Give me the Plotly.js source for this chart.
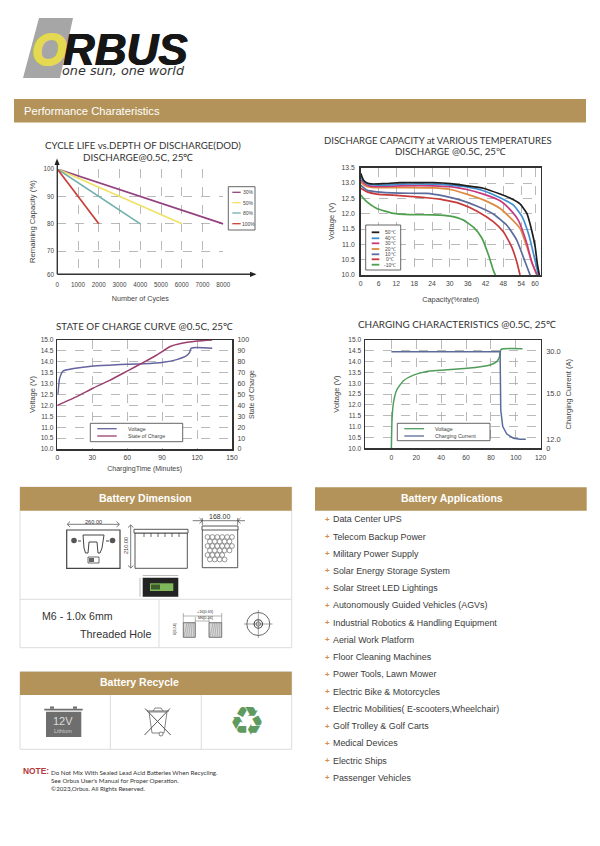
<!DOCTYPE html>
<html>
<head>
<meta charset="utf-8">
<script src="https://cdn.plot.ly/plotly-3.0.1.min.js"></script>
<style>html,body{margin:0;padding:0;background:#fff}#c{width:600px;height:846px}</style>
</head>
<body>
<div id="c"></div>
<script>
// ---------- Chart 1: cycle life vs depth of discharge ----------
const cycleNames = ['30%', '50%', '80%', '100%'];
const cycle30x = [0, 8000];
const cycle50x = [0, 6000];
const cycle80x = [0, 4000];
const cycle100x = [0, 2000];
const cycleY = [100, 80];
const cycleXTicks = [0, 1000, 2000, 3000, 4000, 5000, 6000, 7000, 8000];
const cycleYTickVals = [61.6, 70, 80, 90, 100];
const cycleYTickText = ['60', '70', '80', '90', '100'];

// ---------- Chart 2: discharge capacity at temperatures ----------
const tempNames = ['50℃', '40℃', '30℃', '20℃', '10℃', '0℃', '-10℃'];
const t50x = [0, 0.9, 2, 3.7, 7.6, 13.2, 18.8, 24.4, 30.1, 35.7, 41.3, 46.9, 50.2, 53.6, 55.9, 57.5, 58.7, 59.4, 60.1];
const t50y = [13.32, 13.1, 13.01, 12.97, 12.98, 13.01, 13.01, 13.01, 12.98, 12.91, 12.83, 12.64, 12.51, 12.32, 12.01, 11.47, 10.92, 10.38, 10];
const t40x = [0, 0.9, 2.6, 7.6, 13.2, 24.4, 30.1, 35.7, 41.3, 46.9, 51.4, 54.2, 56.4, 58.1, 59.8];
const t40y = [13.21, 13.07, 12.96, 12.93, 12.96, 12.96, 12.93, 12.87, 12.75, 12.52, 12.28, 11.92, 11.36, 10.71, 10];
const t30x = [0, 1.5, 3.7, 13.2, 24.4, 30.1, 35.7, 41.3, 46.9, 50.2, 53, 55.9, 57.5, 59.4];
const t30y = [13.1, 12.97, 12.89, 12.91, 12.91, 12.88, 12.79, 12.64, 12.42, 12.14, 11.79, 11.03, 10.43, 10];
const t20x = [0, 1.5, 3.7, 13.2, 24.4, 30.1, 35.7, 41.3, 46.9, 50.2, 53.6, 55.9, 58.1, 59.2];
const t20y = [13.04, 12.91, 12.86, 12.85, 12.84, 12.79, 12.64, 12.45, 12.17, 11.88, 11.52, 10.92, 10.27, 10];
const t10x = [0, 2, 5.4, 13.2, 22.2, 27.8, 33.4, 39, 44.6, 49.1, 52.5, 55.3, 57];
const t10y = [12.93, 12.77, 12.71, 12.67, 12.66, 12.58, 12.45, 12.25, 11.99, 11.63, 11.14, 10.43, 10];
const t0x = [0, 2, 5.4, 13.2, 22.2, 27.8, 33.4, 39, 44.6, 48, 50.8, 52.5, 53.6];
const t0y = [12.83, 12.72, 12.64, 12.59, 12.52, 12.45, 12.33, 12.09, 11.74, 11.41, 10.92, 10.43, 10];
const tm10x = [0, 2, 5.4, 11, 16.6, 24.4, 30.1, 34.6, 38, 40.8, 43, 44.6, 45.3];
const tm10y = [12.61, 12.39, 12.17, 12.01, 11.97, 11.96, 11.92, 11.79, 11.55, 11.2, 10.65, 10.16, 10];
const tempXTickVals = [0, 6, 12, 18, 24, 30, 36, 42, 48, 54, 58.65];
const tempXTickText = ['0', '6', '12', '18', '24', '30', '36', '42', '48', '54', '60'];
const voltTicks = [10, 10.5, 11, 11.5, 12, 12.5, 13, 13.5];
const voltTicksFull = [10, 10.5, 11, 11.5, 12, 12.5, 13, 13.5, 14, 14.5, 15];

// ---------- Chart 3: state of charge curve ----------
const socVoltX = [0.5, 2, 5, 14, 31, 51, 74, 91, 102.5, 111, 113.5, 115, 133];
const socVoltY = [12.5, 13.24, 13.58, 13.69, 13.81, 13.87, 13.91, 13.98, 14.1, 14.28, 14.42, 14.63, 14.62];
const socX = [0, 16.6, 31, 45, 60, 74, 85, 97, 105, 120, 133];
const socY = [40, 48, 56, 63, 71.5, 79.5, 86, 94, 96.5, 99, 100];
const socXTicks = [0, 30, 60, 90, 120, 150];
const socRightTicks = [0, 10, 20, 30, 40, 50, 60, 70, 80, 90, 100];

// ---------- Chart 4: charging characteristics ----------
const chgVoltX = [0, 0.5, 1.6, 4.3, 9.7, 17.7, 28.4, 39, 60.6, 79.4, 84.7, 86.9, 88.2, 105.4];
const chgVoltY = [10, 11.3, 12.08, 12.69, 13.12, 13.38, 13.55, 13.6, 13.69, 13.85, 14, 14.23, 14.57, 14.6];
const chgCurX = [0, 87.4, 87.6, 87.9, 89.5, 92.8, 98.1, 103.5, 108];
const chgCurY = [29.8, 29.8, 22, 11.8, 6.7, 4.4, 3.1, 2.8, 2.8];
const chgXTicks = [0, 20, 40, 60, 80, 100, 120];
const chgRightTickVals = [0, 2.8, 16.9, 30];
const chgRightTickText = ['0', '12.0', '15.0', '30.0'];

// ---------- Text ----------
const applications = ['Data Center UPS', 'Telecom Backup Power', 'Military Power Supply', 'Solar Energy Storage System', 'Solar Street LED Lightings', 'Autonomously Guided Vehicles (AGVs)', 'Industrial Robotics & Handling Equipment', 'Aerial Work Platform', 'Floor Cleaning Machines', 'Power Tools, Lawn Mower', 'Electric Bike & Motorcycles', 'Electric Mobilities( E-scooters,Wheelchair)', 'Golf Trolley & Golf Carts', 'Medical Devices', 'Electric Ships', 'Passenger Vehicles'];
const noteLines = ['Do Not Mix With Sealed Lead Acid Batteries When Recycling.', "See Orbus User's Manual for Proper Operation.", '©2023,Orbus. All Rights Reserved.'];

// ---------- Colours ----------
const TAN = '#b39359', BORDER = '#dcdcdc', INK = '#333333', GRID = '#a8a8a8';
const SANS = 'Liberation Sans, Arial, sans-serif', HEAD = 'Lato, sans-serif';
const cycleColors = ['#94417f', '#efe265', '#6fb0ac', '#c93f3a'];
const tempColors = ['#1d1d1d', '#3f8fd1', '#c8397e', '#dd8a3f', '#5b6b9c', '#c8393a', '#4ea04f'];

// ---------- Page-pixel helpers ----------
const W = 600, H = 846;
const fx = x => x / W, fy = y => 1 - y / H;
const shapes = [], annotations = [];
function rect(x0, y0, x1, y1, fill, lineColor, w) {
  shapes.push({type: 'rect', xref: 'paper', yref: 'paper', x0: fx(x0), x1: fx(x1), y0: fy(y0), y1: fy(y1),
    fillcolor: fill || 'rgba(0,0,0,0)', line: {color: lineColor || 'rgba(0,0,0,0)', width: lineColor ? (w || 1) : 0}});
}
function seg(x0, y0, x1, y1, color, w, dash) {
  shapes.push({type: 'line', xref: 'paper', yref: 'paper', x0: fx(x0), x1: fx(x1), y0: fy(y0), y1: fy(y1),
    line: {color: color, width: w || 1, dash: dash || 'solid'}});
}
function circ(cx, cy, r, fill, lineColor, w) {
  shapes.push({type: 'circle', xref: 'paper', yref: 'paper', x0: fx(cx - r), x1: fx(cx + r), y0: fy(cy + r), y1: fy(cy - r),
    fillcolor: fill || 'rgba(0,0,0,0)', line: {color: lineColor || 'rgba(0,0,0,0)', width: lineColor ? (w || 1) : 0}});
}
function poly(d, fill, lineColor, w) {
  const p = d.replace(/(-?[\d.]+)[ ,]+(-?[\d.]+)/g, (m, a, b) => fx(+a) + ',' + fy(+b));
  shapes.push({type: 'path', xref: 'paper', yref: 'paper', path: p,
    fillcolor: fill || 'rgba(0,0,0,0)', line: {color: lineColor || 'rgba(0,0,0,0)', width: lineColor ? (w || 1) : 0}});
}
function label(x, y, t, size, o) {
  o = o || {};
  const font = {family: o.family || SANS, size: size, color: o.color || INK, weight: o.weight || 400, style: o.style || 'normal'};
  if (o.shadow) font.shadow = o.shadow;
  annotations.push({xref: 'paper', yref: 'paper', x: fx(x), y: fy(y), text: t, showarrow: false,
    xanchor: o.anchor || 'center', yanchor: 'middle', textangle: o.angle || 0, borderpad: 0, font: font});
}
function legendBox(x0, y0, x1, y1, names, colors, ys, lx0, lx1, tx, anchor, size, lw) {
  rect(x0, y0, x1, y1, '#ffffff', '#555555', 0.9);
  names.forEach((n, i) => {
    seg(lx0, ys[i], lx1, ys[i], colors[i], lw);
    label(tx, ys[i], n, size, {anchor: anchor, color: '#444444'});
  });
}

// ---------- Logo ----------
poly('M 39 18 L 73 18 L 60 78 L 23 78 Z', '#a6a6a6');
label(49, 49, 'O', 44, {weight: 700, style: 'italic', color: '#e4d950',
  shadow: '1px 0 0 #e4d950, -1px 0 0 #e4d950, 0 1px 0 #e4d950, 0 -1px 0 #e4d950'});
label(62, 49, 'RBUS', 44, {anchor: 'left', weight: 700, style: 'italic', color: '#161616',
  shadow: '0.6px 0 0 #161616, -0.6px 0 0 #161616'});
label(61, 71, 'one sun, one world', 12.8, {anchor: 'left', family: 'DejaVu Sans', style: 'italic', color: '#333333'});

// ---------- Section bands ----------
rect(14, 99, 586, 122.5, TAN);
label(23, 111, 'Performance Charateristics', 11.2, {anchor: 'left', color: '#ffffff'});

rect(20, 487, 291.7, 647.7, '#ffffff', BORDER, 1);
rect(20, 487, 291.7, 510.7, TAN);
label(145, 497.5, 'Battery Dimension', 10.5, {color: '#ffffff', weight: 700});
seg(20, 599.3, 291.7, 599.3, BORDER, 1);
seg(159, 599.3, 159, 647.7, BORDER, 1);

rect(20, 671.7, 291.7, 749.3, '#ffffff', BORDER, 1);
rect(20, 671.7, 291.7, 695, TAN);
label(139, 682.3, 'Battery Recycle', 10.5, {color: '#ffffff', weight: 700});
seg(110.3, 695, 110.3, 749.3, BORDER, 1);
seg(201.3, 695, 201.3, 749.3, BORDER, 1);

rect(315, 487.3, 586.7, 510.7, TAN);
label(452, 497.7, 'Battery Applications', 10.5, {color: '#ffffff', weight: 700});

// ---------- Applications list ----------
applications.forEach((a, i) => {
  const y = 519.3 + i * 17.23;
  label(327.7, y, '+', 8, {color: '#d98a4d', weight: 700});
  label(332.3, y, a, 8.9, {anchor: 'left', color: '#3a3a3a'});
});

// ---------- Dimension drawings ----------
const DK = '#444444';
// front view
rect(66.7, 530, 120, 568.3, '#ffffff', DK, 1.2);
seg(67.7, 524.3, 119, 524.3, DK, 0.7);
poly('M 70 521.5 L 67.2 524.3 L 70 527', null, DK, 0.7);
poly('M 116.5 521.5 L 119.5 524.3 L 116.5 527', null, DK, 0.7);
label(93.3, 521.5, '260.00', 5.6);
circ(74, 540.5, 2.8, '#555555');
circ(112.5, 540.5, 2.8, '#555555');
seg(78, 541, 81, 541, DK, 1);
seg(106, 541, 109, 541, DK, 1);
poly('M 83 535 L 104 535 L 102 548 L 100 553 L 98 553 L 97 542 L 89 542 L 88 553 L 85.5 553 L 84 548 Z', '#ffffff', DK, 1);
rect(88, 557, 99, 563, '#ffffff', DK, 0.8);
rect(89, 558, 94, 562, '#666666');
// side view
rect(135, 533, 187.3, 568.3, '#ffffff', DK, 0.9);
rect(134, 529.3, 188, 533, '#ffffff', DK, 0.9);
[144, 151, 158, 165, 172, 179].forEach(x => seg(x, 533, x, 537, DK, 0.8));
seg(130.7, 525, 130.7, 568, DK, 0.7);
poly('M 128 527.5 L 130.7 525 L 133.4 527.5', null, DK, 0.7);
poly('M 128 565.5 L 130.7 568 L 133.4 565.5', null, DK, 0.7);
label(126, 546, '210.00', 5.6, {angle: -90});
// top view
rect(202.3, 529, 237.7, 567.7, '#ffffff', DK, 0.9);
rect(202, 526, 238, 530, '#ffffff', DK, 0.9);
seg(192.7, 520.7, 245, 520.7, DK, 0.7);
poly('M 199.5 518 L 202.3 520.7 L 199.5 523.4', null, DK, 0.7);
poly('M 240.5 518 L 237.7 520.7 L 240.5 523.4', null, DK, 0.7);
seg(202.3, 518, 202.3, 525, DK, 0.7);
seg(237.7, 518, 237.7, 525, DK, 0.7);
label(220, 516.7, '168.00', 7);
for (let r = 0; r < 6; r++) {
  for (let c = 0; c < (r % 2 ? 5 : 6); c++) {
    if (r > 3 && c > 3) continue;
    circ(207.5 + c * 4.9 + (r % 2 ? 2.4 : 0), 537 + r * 4.5, 2.4, '#ffffff', '#555555', 0.6);
  }
}
// LCD
rect(142.7, 577.7, 178.3, 596.7, '#232323');
rect(150, 583.3, 173.3, 591, '#7fb85a');
rect(151, 584.5, 160, 589.5, '#3c5c2a');
seg(142.7, 575.5, 178.3, 575.5, '#777777', 0.5);
seg(140, 577.7, 140, 596.7, '#777777', 0.5);
// threaded hole
label(41, 616, 'M6 - 1.0x 6mm', 10.6, {anchor: 'left', color: '#333333'});
label(152.3, 633.5, 'Threaded Hole', 10.8, {anchor: 'right', color: '#333333'});
rect(183.3, 622.7, 195.3, 637.3, '#d8d8d8', DK, 0.7);
rect(209, 622.7, 221.7, 637.3, '#d8d8d8', DK, 0.7);
for (let i = 0; i < 5; i++) {
  seg(184 + i * 2.4, 636.8, 187 + i * 1.7, 623, '#777777', 0.4);
  seg(210 + i * 2.4, 636.8, 213 + i * 1.7, 623, '#777777', 0.4);
}
seg(183.3, 613, 183.3, 622.7, DK, 0.4);
seg(221.7, 613, 221.7, 622.7, DK, 0.4);
seg(183.3, 616, 221.7, 616, DK, 0.4);
seg(195.3, 617, 195.3, 622.7, DK, 0.4);
seg(209, 617, 209, 622.7, DK, 0.4);
seg(195.3, 621, 209, 621, DK, 0.4);
label(205, 611.5, '+16[0.63]', 3.8);
label(205, 618, 'M6[0.24]', 3.8);
label(175, 629, '6[0.24]', 3.8, {angle: -90});
circ(258.3, 624, 11.5, '#ffffff', DK, 0.8);
circ(258.3, 624, 4.2, '#ffffff', DK, 1.1);
circ(258.3, 624, 2.2, '#ffffff', DK, 0.7);
seg(244, 624, 272.5, 624, DK, 0.5);
seg(258.3, 610, 258.3, 638, DK, 0.5);

// ---------- Recycle icons ----------
rect(46, 711.7, 81.3, 737, '#6e6e6e');
rect(44.3, 708.7, 82.7, 710.5, '#6e6e6e');
rect(50, 706.5, 54, 708.7, '#6e6e6e');
rect(73, 706.5, 77, 708.7, '#6e6e6e');
label(63.3, 721, '12V', 11, {color: '#dcdcdc'});
label(63.3, 730.5, 'Lithium', 5.5, {color: '#cfcfcf'});
poly('M 149 712 L 167 712 L 164 733 L 152 733 Z', null, '#666666', 0.8);
seg(147, 711, 169, 711, '#666666', 1);
poly('M 153 711 L 155 708 L 161 708 L 163 711', null, '#666666', 0.8);
seg(145, 708.5, 170.7, 735, '#555555', 1);
seg(170, 708.5, 144.5, 735, '#555555', 1);
circ(161, 734, 2, '#ffffff', '#666666', 0.8);
label(246.7, 720.5, '♻', 40, {family: 'DejaVu Sans', color: '#5f9a5f'});

// ---------- Note ----------
label(22.3, 771, 'NOTE:', 8.4, {anchor: 'left', color: '#b2383a', weight: 700});
label(49.5, 772, noteLines[0], 6.2, {anchor: 'left', family: HEAD});
label(49.5, 780.3, noteLines[1], 6.2, {anchor: 'left', family: HEAD});
label(49.5, 788.5, noteLines[2], 6.2, {anchor: 'left', family: HEAD});

// ---------- Chart titles ----------
label(143, 145, 'CYCLE LIFE vs.DEPTH OF DISCHARGE(DOD)', 9.7, {family: HEAD});
label(138, 157, 'DISCHARGE@0.5C, 25℃', 9.9, {family: HEAD});
label(437.8, 140.3, 'DISCHARGE CAPACITY at VARIOUS TEMPERATURES', 9.5, {family: HEAD});
label(450.5, 151.3, 'DISCHARGE @0.5C, 25℃', 9.7, {family: HEAD});
label(144.5, 325.7, 'STATE OF CHARGE CURVE @0.5C, 25℃', 9.8, {family: HEAD});
label(456.8, 324, 'CHARGING CHARACTERISTICS @0.5C, 25℃', 9.9, {family: HEAD});

// ---------- Chart 1 arrows ----------
seg(57.3, 274.3, 253, 274.3, INK, 1.4);
seg(57.3, 274.3, 57.3, 162, INK, 1.4);
poly('M 250 271.7 L 256.5 274.3 L 250 276.9 Z', '#222222');
poly('M 54.5 165 L 57 158.5 L 59.7 165 Z', '#222222');

// ---------- Legends ----------
legendBox(228.3, 186.7, 255, 230, cycleNames, cycleColors, [192.3, 202.7, 213, 223.7], 232.3, 240.7, 248.3, 'center', 5, 1.3);
legendBox(365.7, 225, 400.7, 270, tempNames, tempColors, [232.3, 238.3, 243.3, 249, 254.3, 259.3, 264.7], 371.7, 379.3, 390, 'center', 5, 1.8);
legendBox(90.3, 423.3, 182.7, 441.7, ['Voltage', 'State of Charge'], ['#6464a0', '#9b3f6d'], [428.7, 436], 97.3, 116.7, 127, 'left', 5.3, 1.3);
legendBox(397.3, 423.3, 490, 440.7, ['Voltage', 'Charging Current'], ['#4f9d5a', '#5a6c9a'], [428.7, 436], 404.3, 424, 434, 'left', 5.3, 1.3);

// ---------- Traces ----------
function tr(x, y, name, color, xa, ya, width, spline) {
  return {type: 'scatter', mode: 'lines', x: x, y: y, name: name, xaxis: xa, yaxis: ya, cliponaxis: false, hoverinfo: 'skip',
    line: {color: color, width: width, shape: spline ? 'spline' : 'linear', smoothing: 0.5}};
}
const data = [
  tr(cycle30x, cycleY, cycleNames[0], cycleColors[0], 'x', 'y', 1.7),
  tr(cycle50x, cycleY, cycleNames[1], cycleColors[1], 'x', 'y', 1.7),
  tr(cycle80x, cycleY, cycleNames[2], cycleColors[2], 'x', 'y', 1.7),
  tr(cycle100x, cycleY, cycleNames[3], cycleColors[3], 'x', 'y', 1.7),
  tr(tm10x, tm10y, tempNames[6], tempColors[6], 'x2', 'y2', 1.7, true),
  tr(t0x, t0y, tempNames[5], tempColors[5], 'x2', 'y2', 1.7, true),
  tr(t10x, t10y, tempNames[4], tempColors[4], 'x2', 'y2', 1.7, true),
  tr(t20x, t20y, tempNames[3], tempColors[3], 'x2', 'y2', 1.7, true),
  tr(t30x, t30y, tempNames[2], tempColors[2], 'x2', 'y2', 1.7, true),
  tr(t40x, t40y, tempNames[1], tempColors[1], 'x2', 'y2', 1.7, true),
  tr(t50x, t50y, tempNames[0], tempColors[0], 'x2', 'y2', 1.7, true),
  tr(socVoltX, socVoltY, 'Voltage', '#6464a0', 'x3', 'y3', 1.5, true),
  tr(socX, socY, 'State of Charge', '#9b3f6d', 'x3', 'y5', 1.5, true),
  tr(chgCurX, chgCurY, 'Charging Current', '#5a6c9a', 'x4', 'y6', 1.5),
  tr(chgVoltX, chgVoltY, 'Voltage', '#4f9d5a', 'x4', 'y4', 1.5, true)
];

// ---------- Axes ----------
const xd = (a, b) => [a / W, b / W];
const yd = (top, bot) => [1 - bot / H, 1 - top / H];
const tick = s => ({family: SANS, size: s, color: '#444444'});
const ttl = (t, s, standoff) => ({text: t, font: {family: SANS, size: s, color: '#444444'}, standoff: standoff});
function ax(o) {
  return Object.assign({showline: true, linecolor: INK, linewidth: 1.5, ticks: 'outside', tickcolor: 'rgba(0,0,0,0)', ticklen: 1, tickwidth: 1,
    zeroline: false, showgrid: true, gridcolor: GRID, griddash: 'dash', gridwidth: 0.8, fixedrange: true, automargin: false}, o);
}
const layout = {
  width: W, height: H, autosize: false, showlegend: false, paper_bgcolor: '#ffffff', plot_bgcolor: 'rgba(0,0,0,0)',
  margin: {l: 0, r: 0, t: 0, b: 0, pad: 0}, shapes: shapes, annotations: annotations,
  xaxis: ax({domain: xd(57.3, 223.3), range: [0, 8000], anchor: 'y', tickvals: cycleXTicks, tickfont: tick(6.3), ticklen: 4, title: ttl('Number of Cycles', 7.2, 9), showline: false}),
  yaxis: ax({domain: yd(169, 274.3), range: [61.6, 100], anchor: 'x', tickvals: cycleYTickVals, ticktext: cycleYTickText, tickfont: tick(6.3), title: ttl('Remaining Capacity (%)', 7.7, 6), showline: false}),
  xaxis2: ax({domain: xd(360.7, 540.7), range: [0, 60.56], anchor: 'y2', mirror: true, tickvals: tempXTickVals, ticktext: tempXTickText, tickfont: tick(6.8), title: ttl('Capacity(%rated)', 7.4, 11)}),
  yaxis2: ax({domain: yd(167.7, 275), range: [10, 13.5], anchor: 'x2', mirror: true, tickvals: voltTicks, ticktext: voltTicks.map(v => v.toFixed(1)), tickfont: tick(6.8), ticklen: 3, title: ttl('Voltage (V)', 7.5, 6)}),
  xaxis3: ax({domain: xd(57.3, 232), range: [0, 150], anchor: 'y3', mirror: true, tickvals: socXTicks, tickfont: tick(6.8), title: ttl('ChargingTime (Minutes)', 7, 6)}),
  yaxis3: ax({domain: yd(340, 449), range: [10, 15], anchor: 'x3', mirror: true, tickvals: voltTicksFull, ticktext: voltTicksFull.map(v => v.toFixed(1)), tickfont: tick(6.6), ticklen: 1, title: ttl('Voltage (V)', 7.5, 4)}),
  yaxis5: ax({domain: yd(340, 449), range: [0, 100], anchor: 'x3', overlaying: 'y3', side: 'right', showgrid: false, showline: false, tickvals: socRightTicks, tickfont: tick(7), ticklen: 3, title: ttl('State of Charge', 7, 0)}),
  xaxis4: ax({domain: xd(365, 540.7), range: [-21.2, 120], anchor: 'y4', mirror: true, tickvals: chgXTicks, tickfont: tick(6.8), ticklen: 2}),
  yaxis4: ax({domain: yd(340, 448.3), range: [10, 15], anchor: 'x4', mirror: true, tickvals: voltTicksFull, ticktext: voltTicksFull.map(v => v.toFixed(1)), tickfont: tick(6.6), ticklen: 1, title: ttl('Voltage (V)', 7.5, 7)}),
  yaxis6: ax({domain: yd(340, 448.3), range: [0, 33.4], anchor: 'x4', overlaying: 'y4', side: 'right', showgrid: false, showline: false, tickvals: chgRightTickVals, ticktext: chgRightTickText, tickfont: tick(7.5), ticklen: 3, title: ttl('Charging Current (A)', 7.6, 5)})
};
Plotly.newPlot('c', data, layout, {displayModeBar: false, staticPlot: true});
</script>
</body>
</html>
